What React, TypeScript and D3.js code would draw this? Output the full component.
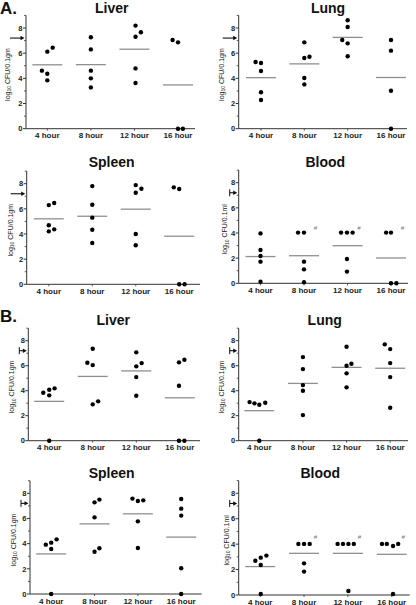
import React from "react";
import * as d3 from "d3";

// ---------- data ----------
const categories = ["4 hour", "8 hour", "12 hour", "16 hour"];
const yTicks = [0, 2, 4, 6, 8];
const yMinorTicks = [1, 3, 5, 7, 9];
const arrowValue = 7.2;
const hashValueA = 4.4;
const hashValueB = 4.6;
const hashCategories = ["8 hour", "12 hour", "16 hour"];

// values (log10 CFU) per category, jitter in dot-spacing units
const aLiverValues = [[6.12, 6.44, 4.61, 4.37, 3.84], [7.26, 6.3, 4.61, 4.0, 3.28], [8.19, 7.66, 7.31, 4.79, 3.63], [7.05, 6.86, 0, 0]];
const aLiverJitter = [[0, 1, -1, 0, 0], [0, 0, 0, 0, 0], [0.2, 1.2, 0.2, 0.2, 0.2], [-1, 0, 0, 0.9]];
const aLungValues = [[5.3, 5.22, 4.58, 2.89, 2.28], [6.86, 5.62, 5.72, 4.03, 3.52], [8.61, 8.08, 7.05, 6.78, 5.75], [7.05, 6.2, 3.02, 0]];
const aLungJitter = [[-1, 0, 0, 0, 0], [0, 0, 0.95, 0, 0], [0, 0, -1, 0, 0], [0, 0, 0, 0]];
const aSpleenValues = [[6.3, 6.46, 4.69, 4.21, 4.37], [7.81, 6.33, 5.3, 4.34, 3.28], [7.89, 7.6, 7.28, 4.0, 3.1], [7.71, 7.58, 0, 0]];
const aSpleenJitter = [[0, 1, 0, 0, 1], [0, 0, 0, 0, 0], [0, 1.05, 0, 0, 0], [-1, 0, 0, 1]];
const aBloodValues = [[3.97, 2.65, 2.17, 1.72, 0.13], [4.03, 4.03, 1.72, 1.11, 0.08], [4.03, 4.03, 4.03, 1.93, 0.93], [4.03, 4.03, 0, 0]];
const aBloodJitter = [[0, 0, 0, 0, 0], [-1.1, 0, 0, 0, 0], [-1.2, -0.1, 0.95, -0.1, -0.1], [-0.9, 0, 0, 1]];

const bLiverValues = [[3.84, 4.08, 4.19, 3.63, 0], [7.36, 6.24, 6.05, 2.91, 3.15], [7.07, 5.95, 6.21, 5.09, 3.6], [6.27, 6.48, 4.4, 0, 0]];
const bLiverJitter = [[-1.1, 0, 1, 0, 0], [0, -1, 0, 0, 1], [0, 0, 1, 0, 0], [-0.15, 0.85, -0.15, -0.15, 0.85]];
const bLungValues = [[3.09, 2.99, 2.88, 3.04, 0], [6.69, 5.73, 4.45, 4.0, 2.05], [7.52, 6.0, 6.16, 5.39, 4.27], [7.71, 7.33, 6.21, 5.09, 2.64]];
const bLungJitter = [[-1.8, -0.9, 0, 1.1, 0], [0, 0, 0, 0, 0], [0, 0, 0.9, 0, 0], [-1, 0, 0, 0, 0]];
const bSpleenValues = [[3.92, 4.08, 4.34, 3.58, 0], [7.28, 7.5, 6.09, 3.36, 3.63], [7.58, 7.39, 7.44, 5.77, 3.66], [7.55, 6.78, 6.23, 2.04, 0]];
const bSpleenJitter = [[-1, 0, 1, 0, 0], [0, 0.9, 0, 0, 0.9], [-1, 0, 1, 0, 0], [0, 0, 0, 0, 0]];
const bBloodValues = [[2.7, 2.94, 3.1, 2.36, 0.08], [4.02, 4.02, 4.02, 2.49, 1.84], [4.02, 4.02, 4.02, 4.02, 0.31], [4.02, 4.02, 3.86, 4.02, 0.08]];
const bBloodJitter = [[-0.9, 0.1, 1.15, 0.1, 0.1], [-1.05, 0, 1.05, 0, 0], [-1.9, -0.9, 0.1, 1.1, 0.1], [-1.8, -0.9, 0.25, 1.2, 0.25]];

// ---------- layout ----------
const W = 416;
const H = 605;
const FONT = "'Liberation Sans', Arial, sans-serif";
const JITTER_PX = 5.4;

type Panel = {
  title: string;
  letter?: string;
  letterY?: number;
  values: number[][];
  jitter: number[][];
  axisX: number;
  right: number;
  first: number;
  last: number;
  y0: number;
  y8: number;
  titleX: number;
  titleY: number;
  unit: string;
  labelDx: number;
  shortArrow: boolean;
  hash?: number;
};

const panels: Panel[] = [
  { title: "Liver", letter: "A.", letterY: 13.5, values: aLiverValues, jitter: aLiverJitter, axisX: 26, right: 195, first: 47.3, last: 178, y0: 128.7, y8: 28, titleX: 111.7, titleY: 12.5, unit: "gm", labelDx: -16.5, shortArrow: false },
  { title: "Lung", values: aLungValues, jitter: aLungJitter, axisX: 238.7, right: 407, first: 261, last: 391, y0: 128.7, y8: 28, titleX: 328, titleY: 12.5, unit: "gm", labelDx: -15, shortArrow: false },
  { title: "Spleen", values: aSpleenValues, jitter: aSpleenJitter, axisX: 26.7, right: 200, first: 48.8, last: 179.2, y0: 284.3, y8: 183.7, titleX: 111.7, titleY: 166.5, unit: "gm", labelDx: -14, shortArrow: false },
  { title: "Blood", values: aBloodValues, jitter: aBloodJitter, axisX: 238.7, right: 408, first: 260.5, last: 391, y0: 283.3, y8: 182.7, titleX: 325.3, titleY: 166.5, unit: "ml", labelDx: -11.5, shortArrow: true, hash: hashValueA },
  { title: "Liver", letter: "B.", letterY: 322, values: bLiverValues, jitter: bLiverJitter, axisX: 28.3, right: 200, first: 49.2, last: 179.8, y0: 440.7, y8: 340.7, titleX: 113.3, titleY: 325, unit: "gm", labelDx: -14, shortArrow: true },
  { title: "Lung", values: bLungValues, jitter: bLungJitter, axisX: 238.7, right: 408, first: 259.3, last: 390.2, y0: 440.7, y8: 340.7, titleX: 324.7, titleY: 325, unit: "gm", labelDx: -15, shortArrow: true },
  { title: "Spleen", values: bSpleenValues, jitter: bSpleenJitter, axisX: 30, right: 201.7, first: 51.2, last: 181.2, y0: 594, y8: 493.3, titleX: 111.7, titleY: 478, unit: "gm", labelDx: -14.5, shortArrow: true },
  { title: "Blood", values: bBloodValues, jitter: bBloodJitter, axisX: 238.7, right: 409.7, first: 260.2, last: 391.7, y0: 595, y8: 493.3, titleX: 320.3, titleY: 478, unit: "ml", labelDx: -10, shortArrow: true, hash: hashValueB },
];

function PanelView({ p }: { p: Panel }) {
  const y = d3.scaleLinear().domain([0, 8]).range([p.y0, p.y8]);
  const x = d3.scalePoint<string>().domain(categories).range([p.first, p.last]);
  const yTop = y(9);
  const ay = y(arrowValue);
  const arrowStart = p.shortArrow ? p.axisX - 9 : p.axisX - 16;
  const arrowEnd = p.axisX - 1.5;
  const labelY = y(4.3);
  return (
    <g>
      {p.letter && (
        <text x={0} y={p.letterY} fontFamily={FONT} fontWeight="bold" fontSize={17} fill="#111">
          {p.letter}
        </text>
      )}
      <text x={p.titleX} y={p.titleY} textAnchor="middle" fontFamily={FONT} fontWeight="bold" fontSize={14} fill="#111">
        {p.title}
      </text>
      {/* y axis */}
      <line x1={p.axisX} x2={p.axisX} y1={yTop} y2={p.y0} stroke="#333" strokeWidth={1} />
      {yTicks.map((t) => (
        <g key={"t" + t}>
          <line x1={p.axisX - 3} x2={p.axisX} y1={y(t)} y2={y(t)} stroke="#333" strokeWidth={1} />
          <text x={p.axisX - 3.5} y={y(t) + 2.7} textAnchor="end" fontFamily={FONT} fontWeight="bold" fontSize={7.5} fill="#222">
            {t}
          </text>
        </g>
      ))}
      {yMinorTicks.map((t) => (
        <line key={"m" + t} x1={p.axisX - 2} x2={p.axisX} y1={y(t)} y2={y(t)} stroke="#333" strokeWidth={0.8} />
      ))}
      {/* x axis */}
      <line x1={p.axisX} x2={p.right} y1={p.y0} y2={p.y0} stroke="#333" strokeWidth={1} />
      {categories.map((c) => (
        <g key={c}>
          <line x1={x(c)} x2={x(c)} y1={p.y0} y2={p.y0 + 2} stroke="#333" strokeWidth={0.8} />
          <text x={x(c)} y={p.y0 + 9.5} textAnchor="middle" fontFamily={FONT} fontWeight="bold" fontSize={8} fill="#222">
            {c}
          </text>
        </g>
      ))}
      {/* y label */}
      <text
        transform={`translate(${p.axisX + p.labelDx},${labelY}) rotate(-90)`}
        textAnchor="middle"
        fontFamily={FONT}
        fontSize={7}
        fill="#222"
      >
        log<tspan fontSize={5} dy={1.5}>10</tspan>
        <tspan dy={-1.5}>{` CFU/0.1${p.unit}`}</tspan>
      </text>
      {/* arrow */}
      {p.shortArrow && (
        <line x1={arrowStart} x2={arrowStart} y1={ay - 3.5} y2={ay + 3.5} stroke="#111" strokeWidth={1} />
      )}
      <line x1={arrowStart} x2={arrowEnd - 3} y1={ay} y2={ay} stroke="#111" strokeWidth={1.1} />
      <path d={`M${arrowEnd},${ay} L${arrowEnd - 4},${ay - 2.2} L${arrowEnd - 4},${ay + 2.2} Z`} fill="#111" />
      {/* mean lines */}
      {categories.map((c, i) => (
        <line
          key={"mean" + c}
          x1={(x(c) as number) - 15}
          x2={(x(c) as number) + 15}
          y1={y(d3.mean(p.values[i]) as number)}
          y2={y(d3.mean(p.values[i]) as number)}
          stroke="#8f8f8f"
          strokeWidth={1.3}
        />
      ))}
      {/* points */}
      {categories.map((c, i) =>
        p.values[i].map((v, j) => (
          <circle key={c + j} cx={(x(c) as number) + p.jitter[i][j] * JITTER_PX} cy={y(v)} r={2.2} fill="#000" />
        ))
      )}
      {/* significance marks */}
      {p.hash !== undefined &&
        hashCategories.map((c) => (
          <text key={"h" + c} x={(x(c) as number) + 11.5} y={y(p.hash as number) + 2} textAnchor="middle" fontFamily={FONT} fontStyle="italic" fontSize={6} fill="#777">
            #
          </text>
        ))}
    </g>
  );
}

export default function App() {
  return (
    <svg width={W} height={H} style={{ position: "absolute", left: 0, top: 0, background: "#fff" }}>
      <rect width={W} height={H} fill="#fff" />
      {panels.map((p, i) => (
        <PanelView key={i} p={p} />
      ))}
    </svg>
  );
}
